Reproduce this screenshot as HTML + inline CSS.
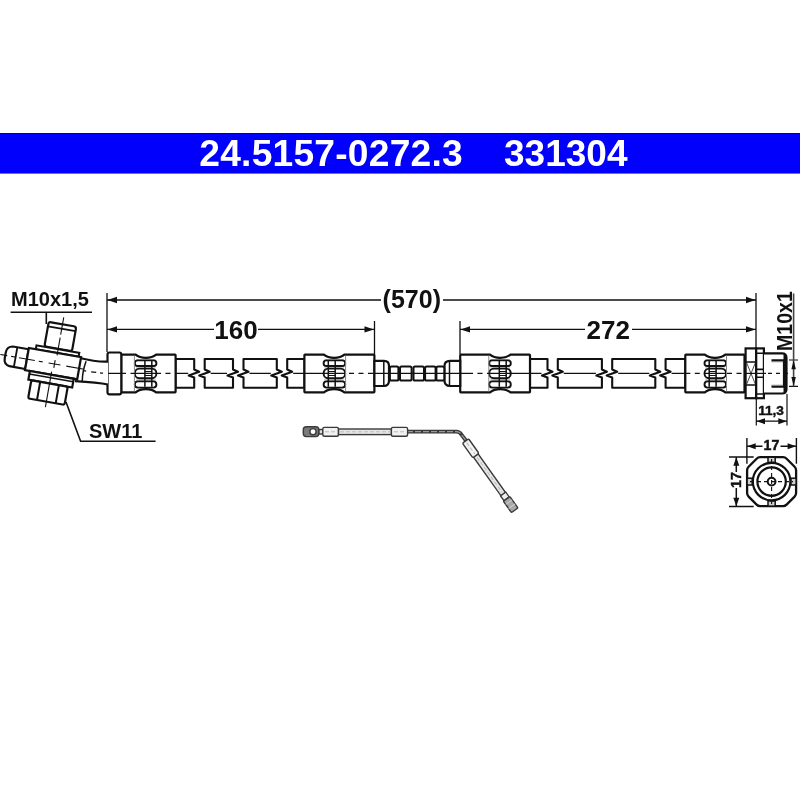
<!DOCTYPE html><html><head><meta charset="utf-8"><style>html,body{margin:0;padding:0;background:#fff;width:800px;height:800px;overflow:hidden}svg{display:block;will-change:transform}text{font-family:"Liberation Sans",sans-serif;font-weight:bold}</style></head><body>
<svg width="800" height="800" viewBox="0 0 800 800">
<rect width="800" height="800" fill="#fff"/>
<rect x="0" y="133" width="800" height="41" fill="#0000fc"/>
<rect x="0" y="133" width="800" height="1" fill="#00009a"/>
<rect x="0" y="173" width="800" height="1" fill="#6a6af8"/>
<text x="199.3" y="166" font-size="37.2" letter-spacing="0.22" fill="#fff">24.5157-0272.3</text>
<text x="504" y="166" font-size="37" fill="#fff">331304</text>
<g stroke="#111" stroke-width="1.3" fill="none">
<path d="M107,293 V352 M756,293 V348 M374.5,321 V354 M460,321 V354"/>
<path d="M107,300 H381 M443,300 H756"/>
<path d="M107,329.4 H214 M258,329.4 H374.5 M460,329.4 H585 M632,329.4 H756"/>
</g>
<path d="M107.5,300 L117.0,296.8 L117.0,303.2 Z" fill="#111"/><path d="M755.5,300 L746.0,296.8 L746.0,303.2 Z" fill="#111"/><path d="M107.5,329.4 L117.0,326.2 L117.0,332.59999999999997 Z" fill="#111"/><path d="M374,329.4 L364.5,326.2 L364.5,332.59999999999997 Z" fill="#111"/><path d="M460.5,329.4 L470.0,326.2 L470.0,332.59999999999997 Z" fill="#111"/><path d="M755.5,329.4 L746.0,326.2 L746.0,332.59999999999997 Z" fill="#111"/>
<text x="411.8" y="307.5" font-size="25" text-anchor="middle" fill="#111">(570)</text>
<text x="236" y="339" font-size="26" text-anchor="middle" fill="#111">160</text>
<text x="608.2" y="339.4" font-size="26" text-anchor="middle" fill="#111">272</text>
<path d="M175.5,359 H194.2 V369.5 L199.2,371.8 L188.7,375.6 L194.2,377.6 V387.7 H175.5 Z" fill="#fff" stroke="#111" stroke-width="2.1" stroke-linejoin="round"/>
<path d="M204.7,359 H233 V369.5 L238,371.8 L227.5,375.6 L233,377.6 V387.7 H204.7 V377.6 L199.2,375.6 L209.7,371.8 L204.7,369.5 Z" fill="#fff" stroke="#111" stroke-width="2.1" stroke-linejoin="round"/>
<path d="M243.5,359 H276.8 V369.5 L281.8,371.8 L271.3,375.6 L276.8,377.6 V387.7 H243.5 V377.6 L238.0,375.6 L248.5,371.8 L243.5,369.5 Z" fill="#fff" stroke="#111" stroke-width="2.1" stroke-linejoin="round"/>
<path d="M287.2,359 H304.5 V387.7 H287.2 V377.6 L281.7,375.6 L292.2,371.8 L287.2,369.5 Z" fill="#fff" stroke="#111" stroke-width="2.1" stroke-linejoin="round"/>
<path d="M530,359 H547.5 V369.5 L552.5,371.8 L542.0,375.6 L547.5,377.6 V387.7 H530 Z" fill="#fff" stroke="#111" stroke-width="2.1" stroke-linejoin="round"/>
<path d="M557.8,359 H601.9 V369.5 L606.9,371.8 L596.4,375.6 L601.9,377.6 V387.7 H557.8 V377.6 L552.3,375.6 L562.8,371.8 L557.8,369.5 Z" fill="#fff" stroke="#111" stroke-width="2.1" stroke-linejoin="round"/>
<path d="M612.2,359 H655.3 V369.5 L660.3,371.8 L649.8,375.6 L655.3,377.6 V387.7 H612.2 V377.6 L606.7,375.6 L617.2,371.8 L612.2,369.5 Z" fill="#fff" stroke="#111" stroke-width="2.1" stroke-linejoin="round"/>
<path d="M665.6,359 H685.3 V387.7 H665.6 V377.6 L660.1,375.6 L670.6,371.8 L665.6,369.5 Z" fill="#fff" stroke="#111" stroke-width="2.1" stroke-linejoin="round"/>
<path d="M121.2,355.20000000000005 Q121.2,354.6 121.8,354.6 H135.6 C140.6,358.90000000000003 151.1,358.90000000000003 156.1,354.6 H175.0 Q175.6,354.6 175.6,355.20000000000005 V391.7 Q175.6,392.3 175.0,392.3 H156.1 C151.1,388.0 140.6,388.0 135.6,392.3 H121.8 Q121.2,392.3 121.2,391.7 Z" fill="#fff" stroke="#111" stroke-width="2.2"/><rect x="136.1" y="359.1" width="19.5" height="28.69999999999999" fill="#cfcfcf"/><rect x="134.79999999999998" y="360.4" width="21.600000000000023" height="5.600000000000023" rx="2.8000000000000114" ry="2.8000000000000114" fill="#fff" stroke="#111" stroke-width="1.9"/><rect x="134.79999999999998" y="368.6" width="21.600000000000023" height="9.599999999999966" rx="4.799999999999983" ry="4.799999999999983" fill="#fff" stroke="#111" stroke-width="1.9"/><rect x="134.79999999999998" y="381.4" width="21.600000000000023" height="6.2000000000000455" rx="3.1000000000000227" ry="3.1000000000000227" fill="#fff" stroke="#111" stroke-width="1.9"/><path d="M144.9,360.20000000000005 V386.7 M151.79999999999998,360.20000000000005 V386.7" stroke="#111" stroke-width="1.5"/><path d="M144.9,371.5 H151.79999999999998 M144.9,375.5 H151.79999999999998" stroke="#111" stroke-width="1.1"/><path d="M134.4,355.6 V391.3" stroke="#888" stroke-width="1"/>
<rect x="107.5" y="352.5" width="13.8" height="41.8" rx="2" fill="#fff" stroke="#111" stroke-width="2.2"/>
<path d="M304.4,355.20000000000005 Q304.4,354.6 305.0,354.6 H323.9 C328.9,358.90000000000003 339.4,358.90000000000003 344.4,354.6 H373.79999999999995 Q374.4,354.6 374.4,355.20000000000005 V391.7 Q374.4,392.3 373.79999999999995,392.3 H344.4 C339.4,388.0 328.9,388.0 323.9,392.3 H305.0 Q304.4,392.3 304.4,391.7 Z" fill="#fff" stroke="#111" stroke-width="2.2"/><rect x="324.4" y="359.1" width="19.5" height="28.69999999999999" fill="#cfcfcf"/><rect x="323.59999999999997" y="360.4" width="21.600000000000023" height="5.600000000000023" rx="2.8000000000000114" ry="2.8000000000000114" fill="#fff" stroke="#111" stroke-width="1.9"/><rect x="323.59999999999997" y="368.6" width="21.600000000000023" height="9.599999999999966" rx="4.799999999999983" ry="4.799999999999983" fill="#fff" stroke="#111" stroke-width="1.9"/><rect x="323.59999999999997" y="381.4" width="21.600000000000023" height="6.2000000000000455" rx="3.1000000000000227" ry="3.1000000000000227" fill="#fff" stroke="#111" stroke-width="1.9"/><path d="M328.29999999999995,360.20000000000005 V386.7 M335.2,360.20000000000005 V386.7" stroke="#111" stroke-width="1.5"/><path d="M328.29999999999995,371.5 H335.2 M328.29999999999995,375.5 H335.2" stroke="#111" stroke-width="1.1"/><path d="M345.59999999999997,355.6 V391.3" stroke="#888" stroke-width="1"/>
<path d="M460.2,355.20000000000005 Q460.2,354.6 460.8,354.6 H490 C495,358.90000000000003 505.5,358.90000000000003 510.5,354.6 H529.4 Q530,354.6 530,355.20000000000005 V391.7 Q530,392.3 529.4,392.3 H510.5 C505.5,388.0 495,388.0 490,392.3 H460.8 Q460.2,392.3 460.2,391.7 Z" fill="#fff" stroke="#111" stroke-width="2.2"/><rect x="490.5" y="359.1" width="19.5" height="28.69999999999999" fill="#cfcfcf"/><rect x="489.2" y="360.4" width="21.600000000000023" height="5.600000000000023" rx="2.8000000000000114" ry="2.8000000000000114" fill="#fff" stroke="#111" stroke-width="1.9"/><rect x="489.2" y="368.6" width="21.600000000000023" height="9.599999999999966" rx="4.799999999999983" ry="4.799999999999983" fill="#fff" stroke="#111" stroke-width="1.9"/><rect x="489.2" y="381.4" width="21.600000000000023" height="6.2000000000000455" rx="3.1000000000000227" ry="3.1000000000000227" fill="#fff" stroke="#111" stroke-width="1.9"/><path d="M499.3,360.20000000000005 V386.7 M506.2,360.20000000000005 V386.7" stroke="#111" stroke-width="1.5"/><path d="M499.3,371.5 H506.2 M499.3,375.5 H506.2" stroke="#111" stroke-width="1.1"/><path d="M488.8,355.6 V391.3" stroke="#888" stroke-width="1"/>
<path d="M685.3,355.20000000000005 Q685.3,354.6 685.9,354.6 H704.8 C709.8,358.90000000000003 720.3,358.90000000000003 725.3,354.6 H743.9 Q744.5,354.6 744.5,355.20000000000005 V391.7 Q744.5,392.3 743.9,392.3 H725.3 C720.3,388.0 709.8,388.0 704.8,392.3 H685.9 Q685.3,392.3 685.3,391.7 Z" fill="#fff" stroke="#111" stroke-width="2.2"/><rect x="705.3" y="359.1" width="19.5" height="28.69999999999999" fill="#cfcfcf"/><rect x="704.5" y="360.4" width="21.59999999999991" height="5.600000000000023" rx="2.8000000000000114" ry="2.8000000000000114" fill="#fff" stroke="#111" stroke-width="1.9"/><rect x="704.5" y="368.6" width="21.59999999999991" height="9.599999999999966" rx="4.799999999999983" ry="4.799999999999983" fill="#fff" stroke="#111" stroke-width="1.9"/><rect x="704.5" y="381.4" width="21.59999999999991" height="6.2000000000000455" rx="3.1000000000000227" ry="3.1000000000000227" fill="#fff" stroke="#111" stroke-width="1.9"/><path d="M709.1999999999999,360.20000000000005 V386.7 M716.0999999999999,360.20000000000005 V386.7" stroke="#111" stroke-width="1.5"/><path d="M709.1999999999999,371.5 H716.0999999999999 M709.1999999999999,375.5 H716.0999999999999" stroke="#111" stroke-width="1.1"/><path d="M726.5,355.6 V391.3" stroke="#888" stroke-width="1"/>
<path d="M374.4,360.8 H384 Q389,360.8 389,366 V380.5 Q389,386 384,386 H374.4 Z" fill="#fff" stroke="#111" stroke-width="2.2"/>
<path d="M383.8,361.5 V385.5" stroke="#111" stroke-width="1.5"/>
<path d="M460.2,360.8 H450 Q444.5,360.8 444.5,366 V380.5 Q444.5,386 450,386 H460.2 Z" fill="#fff" stroke="#111" stroke-width="2.2"/>
<path d="M449.5,361.5 V385.5" stroke="#111" stroke-width="1.5"/>
<rect x="389.9" y="366.6" width="8.5" height="13.9" rx="1.6" fill="#fff" stroke="#111" stroke-width="2"/>
<rect x="400.0" y="366.6" width="11.600000000000023" height="13.9" rx="1.6" fill="#fff" stroke="#111" stroke-width="2"/>
<rect x="413.5" y="366.6" width="10.5" height="13.9" rx="1.6" fill="#fff" stroke="#111" stroke-width="2"/>
<rect x="425.1" y="366.6" width="10.5" height="13.9" rx="1.6" fill="#fff" stroke="#111" stroke-width="2"/>
<rect x="436.4" y="366.6" width="7.900000000000034" height="13.9" rx="1.6" fill="#fff" stroke="#111" stroke-width="2"/>
<path d="M175.5,373.4 H188.2 M210.7,373.4 H227 M249.5,373.4 H270.8 M293.2,373.4 H304.5 M530,373.4 H541.5 M563.8,373.4 H595.9 M618.2,373.4 H649.3 M671.6,373.4 H685.3 M135,373.4 H156 M304.4,373.4 H345 M374,373.4 H468 M489,373.4 H530 M705,373.4 H726 M707,373.4 H708 M107,373.4 H121" stroke="#111" stroke-width="1.2"/>
<path d="M349,373.4 H374 M468,373.4 H489 M727,373.4 H745 M685.3,373.4 H705 M121,373.4 H135 M156,373.4 H175.5" stroke="#111" stroke-width="1.2" stroke-dasharray="5,4.5"/>
<rect x="745.6" y="348.4" width="10.6" height="49.8" fill="#fff" stroke="#111" stroke-width="2.2"/>
<path d="M745.6,362 H756 M745.6,385 H756" stroke="#111" stroke-width="1.5"/>
<path d="M746.5,362.5 L755.5,384.5 M755.5,362.5 L746.5,384.5" stroke="#333" stroke-width="0.9"/>
<rect x="756.2" y="348.4" width="7.7" height="49.8" fill="#fff" stroke="#111" stroke-width="2.2"/>
<path d="M756.2,353.2 H764 M756.2,394 H764 M756.2,369.4 H764 M756.2,377.3 H764" stroke="#111" stroke-width="1.6"/>
<path d="M764,353.3 H782 Q786.5,353.3 786.5,358 V389 Q786.5,393.5 782,393.5 H764" fill="#fff" stroke="#111" stroke-width="2.2"/>
<path d="M785,355 V392" stroke="#111" stroke-width="3"/>
<path d="M771.5,360.4 H784 V386.6 H771.5" fill="none" stroke="#111" stroke-width="2.2"/>
<path d="M771.5,361.6 H783 M771.5,385.4 H783" fill="none" stroke="#888" stroke-width="1.4"/>
<path d="M745,373.4 H766" stroke="#111" stroke-width="1.2"/>
<path d="M768,373.4 H790" stroke="#111" stroke-width="1.2" stroke-dasharray="4,4"/>
<path d="M789,360 H798 M789,386.4 H798" stroke="#111" stroke-width="1.2"/><path d="M793.6,293.5 V386.4" stroke="#444" stroke-width="1.6"/>
<path d="M793.6,360.3 L791.35,369.3 L795.85,369.3 Z" fill="#111"/><path d="M793.6,386.1 L791.35,377.1 L795.85,377.1 Z" fill="#111"/>
<text transform="translate(791.8,351) rotate(-90) scale(0.87,1)" font-size="22.5" fill="#111">M10x1</text>
<path d="M756.3,394 V425.5 M787,394 V425.5 M756.3,421.2 H787" stroke="#111" stroke-width="1.2"/>
<path d="M756.5,421.2 L765.0,418.2 L765.0,424.2 Z" fill="#111"/><path d="M786.8,421.2 L778.3,418.2 L778.3,424.2 Z" fill="#111"/>
<text x="771" y="415.2" font-size="13.6" text-anchor="middle" fill="#111" stroke="#111" stroke-width="0.45">11,3</text>
<path d="M746.9,446.3 H762.5 M780.5,446.3 H796.4 M746.9,438 V463.8 M796.4,438 V463.8" stroke="#111" stroke-width="1.4"/>
<path d="M747.2,446.3 L755.7,443.3 L755.7,449.3 Z" fill="#111"/><path d="M796.1,446.3 L787.6,443.3 L787.6,449.3 Z" fill="#111"/>
<text x="771.4" y="450.3" font-size="14.2" text-anchor="middle" fill="#111" stroke="#111" stroke-width="0.45">17</text>
<path d="M729,457 H753.7 M729,506.5 H753.7 M736.3,457 V472 M736.3,488 V506.5" stroke="#111" stroke-width="1.5"/>
<path d="M736.3,457.3 L733.3,465.8 L739.3,465.8 Z" fill="#111"/><path d="M736.3,506.2 L733.3,497.7 L739.3,497.7 Z" fill="#111"/>
<text transform="translate(740.8,480.1) rotate(-90)" font-size="14.2" text-anchor="middle" fill="#111" stroke="#111" stroke-width="0.45">17</text>
<path d="M760.1,457.2 H783.1 Q785.1,457.2 786.6,458.7 L794.6,466.7 Q796.1,468.2 796.1,470.2 V493.1 Q796.1,495.1 794.6,496.6 L786.6,504.6 Q785.1,506.1 783.1,506.1 H760.1 Q758.1,506.1 756.6,504.6 L748.6,496.6 Q747.1,495.1 747.1,493.1 V470.2 Q747.1,468.2 748.6,466.7 L756.6,458.7 Q758.1,457.2 760.1,457.2 Z" fill="#fff" stroke="#111" stroke-width="2.3"/>
<rect x="768.0" y="457.2" width="7.2" height="5.2" fill="#d0d0d0" stroke="#111" stroke-width="1.5"/>
<rect x="768.0" y="500.90000000000003" width="7.2" height="5.2" fill="#d0d0d0" stroke="#111" stroke-width="1.5"/>
<rect x="747.1" y="478.20000000000005" width="5.2" height="6.8" fill="#d0d0d0" stroke="#111" stroke-width="1.5"/>
<rect x="790.9" y="478.20000000000005" width="5.2" height="6.8" fill="#d0d0d0" stroke="#111" stroke-width="1.5"/>
<circle cx="771.6" cy="481.6" r="18.8" fill="none" stroke="#111" stroke-width="2.2"/>
<circle cx="771.6" cy="481.6" r="14.2" fill="none" stroke="#111" stroke-width="2.2"/>
<circle cx="771.6" cy="481.6" r="3.9" fill="none" stroke="#111" stroke-width="2"/>
<path d="M771.6,459 V504 M750,481.6 H793" stroke="#111" stroke-width="1.1" stroke-dasharray="4,3"/>
<path d="M60,357.3 H78 C86,359.5 95,362.3 108,361.6 V384.5 C100,382.8 88,381.8 77,381.2 H60 Z" fill="#fff" stroke="none"/>
<path d="M76,357.1 C86,359.5 95,362.3 108,361.6 M75,381.1 C88,381.8 100,382.8 108,384.5" fill="none" stroke="#111" stroke-width="2.2"/>
<path d="M83.5,370.6 Q93,372.4 108,373.4" fill="none" stroke="#111" stroke-width="1.3" stroke-dasharray="3,5,5,4"/>
<g transform="rotate(10 54.5 364)" stroke="#111" fill="#fff">
<path d="M-28,-10 H-44 Q-50,-9 -50,-3 V3 Q-50,9 -44,10 H-28 Z" transform="translate(54.5 364)" stroke-width="2.2"/>
<path d="M-39.5,-10 V10" transform="translate(54.5 364)" stroke-width="1.8"/>
<g transform="translate(54.5 364)">
<rect x="-13" y="-40.5" width="28" height="25" rx="2.5" stroke-width="2.2"/>
<path d="M-13,-36 H15" stroke-width="1.8"/>
<path d="M-4,-36 V-15.5 M7,-36 V-15.5" stroke-width="0"/>
<rect x="-21" y="-15.3" width="43.5" height="4" stroke-width="2"/>
<rect x="-28" y="-11.3" width="53" height="22.5" stroke-width="2.2"/>
<rect x="-23" y="11.2" width="44.5" height="8.8" stroke-width="2.2"/>
<path d="M-23,14.2 H21.5" stroke-width="1.6"/>
<rect x="-20" y="20" width="37" height="18.5" rx="2" stroke-width="2.2"/>
<path d="M-11,20.5 V38.5 M8,20.5 V38.5" stroke-width="2"/>
<path d="M1,-47.5 V-30 M1,-27 V-9 M-1.5,8 V44 M-55,0 H-48 M-44,0 H-40 M-36,0 H-20 M-16,0 H-12 M-6,0 H6 M12,0 H30 M0,-4 V4" stroke-width="1.1" fill="none"/>
</g>
</g>
<path d="M86.1,361.2 C83.5,368 82.3,375 82.2,381.6" fill="none" stroke="#111" stroke-width="1.5"/>
<path d="M10.6,312.3 H92 M46.3,312.3 V324" stroke="#111" stroke-width="1.6" fill="none"/>
<text x="11" y="306.3" font-size="20" fill="#111">M10x1,5</text>
<path d="M66,402 L80.6,441.3 H155.6" stroke="#111" stroke-width="1.6" fill="none"/>
<text x="89" y="438.1" font-size="20" fill="#111">SW11</text>
<path d="M407,431.7 H456.5 Q459.5,431.7 461.5,434.6 L467,442" fill="none" stroke="#3a3a3a" stroke-width="3.8"/>
<path d="M407,431.7 H456.5 Q459.5,431.7 461.5,434.6 L467,442" fill="none" stroke="#999" stroke-width="1.3" stroke-dasharray="6,2"/>
<g stroke="#3a3a3a" stroke-width="1.4">
<rect x="303.3" y="426.8" width="15.5" height="9.8" rx="3" fill="#7a7a7a"/>
<circle cx="313" cy="431.7" r="3.1" fill="#fff"/>
<rect x="319" y="429.5" width="4" height="4.5" fill="#ddd"/>
<rect x="322.8" y="427.4" width="15.7" height="8.8" rx="1.5" fill="#f2f2f2"/>
<rect x="338.5" y="429" width="53" height="5.6" fill="#e6e6e6"/>
<rect x="391.4" y="427.4" width="16.2" height="8.8" rx="1.5" fill="#f2f2f2"/>
</g>
<path d="M325,431.8 H336 M340,431.8 H390 M394,431.8 H405" stroke="#bbb" stroke-width="1" stroke-dasharray="4,2"/>
<g transform="translate(465.5 441) rotate(54.6)" stroke="#3a3a3a" stroke-width="1.4">
<rect x="0" y="-3.8" width="18" height="7.6" rx="1.5" fill="#f2f2f2"/>
<rect x="18" y="-2.8" width="47" height="5.6" fill="#e6e6e6"/>
<rect x="65" y="-3.2" width="6" height="6.4" fill="#eee"/>
<rect x="71" y="-4" width="14" height="8" rx="1" fill="#a8a8a8"/>
<path d="M75,-4 V4 M80,-4 V4" stroke="#ccc" stroke-width="1"/>
<path d="M2,0 H16 M20,0 H63" stroke="#bbb" stroke-width="1" stroke-dasharray="4,2"/>
</g>
</svg></body></html>
